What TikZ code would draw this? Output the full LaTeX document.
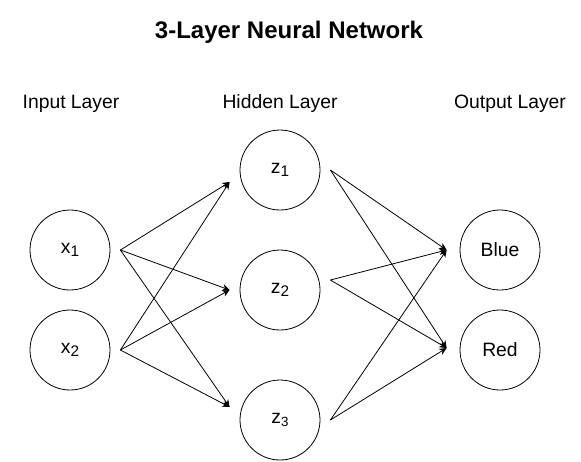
\documentclass[tikz,border=0pt]{standalone}
\usepackage{fontspec}
\setmainfont{Liberation Sans}
\usetikzlibrary{arrows.meta,calc}
\newcommand{\lsub}[2][11.5]{\raisebox{-0.35ex}{\fontsize{#1}{12}\selectfont #2}}
\begin{document}
\begin{tikzpicture}[x=0.75pt, y=-0.75pt,
    neuron/.style={circle, draw, line width=0.6pt, minimum size=60pt, inner sep=0pt, font=\fontsize{14.5}{17}\selectfont},
    layer/.style={anchor=base, font=\fontsize{14.5}{17}\selectfont},
    link/.style={-{Stealth[length=5.5pt, width=5pt]}, line width=0.6pt}]
    \useasboundingbox (0,0) rectangle (581,461);
    \node[font=\bfseries\fontsize{18}{22}\selectfont] (title) at (289,32) {3-Layer Neural Network};
    \node[layer] (inlabel) at (71,108) {Input Layer};
    \node[layer] (hidlabel) at (280,108) {Hidden Layer};
    \node[layer] (outlabel) at (510,108) {Output Layer};
    % neurons
    \node[neuron] (x1) at (70,250) {x\lsub{1}};
    \node[neuron] (x2) at (70,350) {x\lsub{2}};
    \node[neuron] (z1) at (280,170) {z\lsub{1}};
    \node[neuron] (z2) at (280,290) {z\lsub{2}};
    \node[neuron] (z3) at (280,420) {z\lsub[10]{3}};
    \node[neuron] (blue) at (500,250) {Blue};
    \node[neuron] (red) at (500,350) {Red};
    % arrow ends
    \coordinate (x1o) at ($(x1.east)+(10,0)$);
    \coordinate (x2o) at ($(x2.east)+(10,0)$);
    \coordinate (z1i) at ($(z1.west)+(-10,12)$);
    \coordinate (z2i) at ($(z2.west)+(-10,0)$);
    \coordinate (z3i) at ($(z3.west)+(-10,-13)$);
    \coordinate (z1o) at ($(z1.east)+(10,0)$);
    \coordinate (z2o) at ($(z2.east)+(10,-10)$);
    \coordinate (z3o) at ($(z3.east)+(10,0)$);
    \coordinate (bluei) at ($(blue.west)+(-13,0)$);
    \coordinate (redi) at ($(red.west)+(-13,-2)$);
    \foreach \s in {x1o,x2o}
        \foreach \t in {z1i,z2i,z3i}
            \draw[link] (\s) -- (\t);
    \foreach \s in {z1o,z2o,z3o}
        \foreach \t in {bluei,redi}
            \draw[link] (\s) -- (\t);
\end{tikzpicture}
\end{document}
